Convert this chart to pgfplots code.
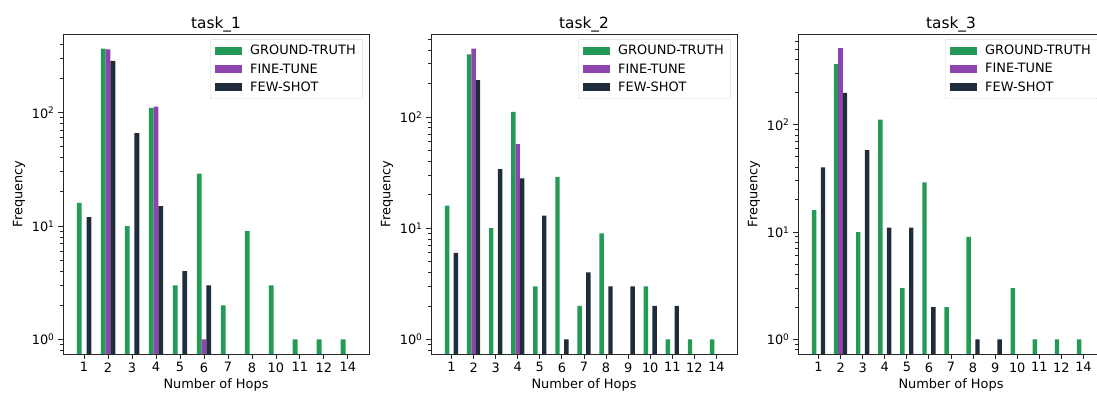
\documentclass[border=0pt]{standalone}
\usepackage{pgfplots}
\pgfplotsset{compat=1.18}
\usepackage{fontspec}
\setmainfont{DejaVu Sans}
\definecolor{gt}{HTML}{239B56}
\definecolor{ft}{HTML}{8E44AD}
\definecolor{fs}{HTML}{1F2D3B}
\newcommand\tf{\fontsize{12.9pt}{15pt}\selectfont}
\newcommand\ttf{\fontsize{15.4pt}{18pt}\selectfont}
\begin{document}
\begin{tikzpicture}
\begin{scope}
\clip (0pt,0pt) rectangle (1097pt,392pt);
\begin{axis}[at={(63pt,38pt)}, anchor=south west, scale only axis, width=306pt, height=320pt,
  ymode=log, log origin=infty,
  axis line style={black!85, line width=0.9pt},
  tick style={black!85, line width=0.9pt},
  tick align=outside, tick pos=left,
  major tick length=5pt, minor tick length=3pt,
  ytick={1,10,100},
  yticklabels={10\textsuperscript{0},10\textsuperscript{1},10\textsuperscript{2}},
  minor ytick={0.8,0.9,2,3,4,5,6,7,8,9,20,30,40,50,60,70,80,90,200,300,400,500,600},
  ticklabel style={font=\tf}, label style={font=\tf},
  title style={font=\ttf, yshift=-8pt}, title={task\_1},
  xlabel={Number of Hops}, ylabel={Frequency},
  legend style={at={(0.98,0.984)}, anchor=north east, draw=black!15, rounded corners=2pt, fill=white, font=\tf,
    row sep=3.2pt, inner xsep=5pt, inner ysep=4pt, /tikz/every odd column/.append style={column sep=6pt}},
  legend cell align=left,
  legend image code/.code={\fill[#1, sharp corners] (0pt,-4pt) rectangle (27pt,4pt);},
  xmin=-0.88, xmax=11.88, ymin=0.744, ymax=493,
  xtick={0,...,11}, xticklabels={1,2,3,4,5,6,7,8,10,11,12,14}]
\addplot[ybar, bar width=0.2, bar shift=-0.2, fill=gt, draw=none] coordinates {(0,16)(1,367)(2,10)(3,110)(4,3)(5,29)(6,2)(7,9)(8,3)(9,1)(10,1)(11,1)};
\addplot[ybar, bar width=0.2, bar shift=0, fill=ft, draw=none] coordinates {(1,360)(3,113)(5,1)};
\addplot[ybar, bar width=0.2, bar shift=0.2, fill=fs, draw=none] coordinates {(0,12)(1,286)(2,66)(3,15)(4,4)(5,3)};
\legend{GROUND-TRUTH,FINE-TUNE,FEW-SHOT}
\end{axis}
\begin{axis}[at={(431pt,38pt)}, anchor=south west, scale only axis, width=306pt, height=320pt,
  ymode=log, log origin=infty,
  axis line style={black!85, line width=0.9pt},
  tick style={black!85, line width=0.9pt},
  tick align=outside, tick pos=left,
  major tick length=5pt, minor tick length=3pt,
  ytick={1,10,100},
  yticklabels={10\textsuperscript{0},10\textsuperscript{1},10\textsuperscript{2}},
  minor ytick={0.8,0.9,2,3,4,5,6,7,8,9,20,30,40,50,60,70,80,90,200,300,400,500,600},
  ticklabel style={font=\tf}, label style={font=\tf},
  title style={font=\ttf, yshift=-8pt}, title={task\_2},
  xlabel={Number of Hops}, ylabel={Frequency},
  legend style={at={(0.98,0.984)}, anchor=north east, draw=black!15, rounded corners=2pt, fill=white, font=\tf,
    row sep=3.2pt, inner xsep=5pt, inner ysep=4pt, /tikz/every odd column/.append style={column sep=6pt}},
  legend cell align=left,
  legend image code/.code={\fill[#1, sharp corners] (0pt,-4pt) rectangle (27pt,4pt);},
  xmin=-0.93, xmax=12.93, ymin=0.74, ymax=557,
  xtick={0,...,12}, xticklabels={1,2,3,4,5,6,7,8,9,10,11,12,14}]
\addplot[ybar, bar width=0.2, bar shift=-0.2, fill=gt, draw=none] coordinates {(0,16)(1,366)(2,10)(3,111)(4,3)(5,29)(6,2)(7,9)(9,3)(10,1)(11,1)(12,1)};
\addplot[ybar, bar width=0.2, bar shift=0, fill=ft, draw=none] coordinates {(1,412)(3,57)};
\addplot[ybar, bar width=0.2, bar shift=0.2, fill=fs, draw=none] coordinates {(0,6)(1,214)(2,34)(3,28)(4,13)(5,1)(6,4)(7,3)(8,3)(9,2)(10,2)};
\legend{GROUND-TRUTH,FINE-TUNE,FEW-SHOT}
\end{axis}
\begin{axis}[at={(798pt,38pt)}, anchor=south west, scale only axis, width=306pt, height=320pt,
  ymode=log, log origin=infty,
  axis line style={black!85, line width=0.9pt},
  tick style={black!85, line width=0.9pt},
  tick align=outside, tick pos=left,
  major tick length=5pt, minor tick length=3pt,
  ytick={1,10,100},
  yticklabels={10\textsuperscript{0},10\textsuperscript{1},10\textsuperscript{2}},
  minor ytick={0.8,0.9,2,3,4,5,6,7,8,9,20,30,40,50,60,70,80,90,200,300,400,500,600},
  ticklabel style={font=\tf}, label style={font=\tf},
  title style={font=\ttf, yshift=-8pt}, title={task\_3},
  xlabel={Number of Hops}, ylabel={Frequency},
  legend style={at={(0.98,0.984)}, anchor=north east, draw=black!15, rounded corners=2pt, fill=white, font=\tf,
    row sep=3.2pt, inner xsep=5pt, inner ysep=4pt, /tikz/every odd column/.append style={column sep=6pt}},
  legend cell align=left,
  legend image code/.code={\fill[#1, sharp corners] (0pt,-4pt) rectangle (27pt,4pt);},
  xmin=-0.93, xmax=12.93, ymin=0.732, ymax=697,
  xtick={0,...,12}, xticklabels={1,2,3,4,5,6,7,8,9,10,11,12,14}]
\addplot[ybar, bar width=0.2, bar shift=-0.2, fill=gt, draw=none] coordinates {(0,16)(1,365)(2,10)(3,111)(4,3)(5,29)(6,2)(7,9)(9,3)(10,1)(11,1)(12,1)};
\addplot[ybar, bar width=0.2, bar shift=0, fill=ft, draw=none] coordinates {(1,511)};
\addplot[ybar, bar width=0.2, bar shift=0.2, fill=fs, draw=none] coordinates {(0,40)(1,197)(2,58)(3,11)(4,11)(5,2)(7,1)(8,1)};
\legend{GROUND-TRUTH,FINE-TUNE,FEW-SHOT}
\end{axis}
\end{scope}
\pgfresetboundingbox
\useasboundingbox (0pt,0pt) rectangle (1097pt,392pt);
\end{tikzpicture}
\end{document}
